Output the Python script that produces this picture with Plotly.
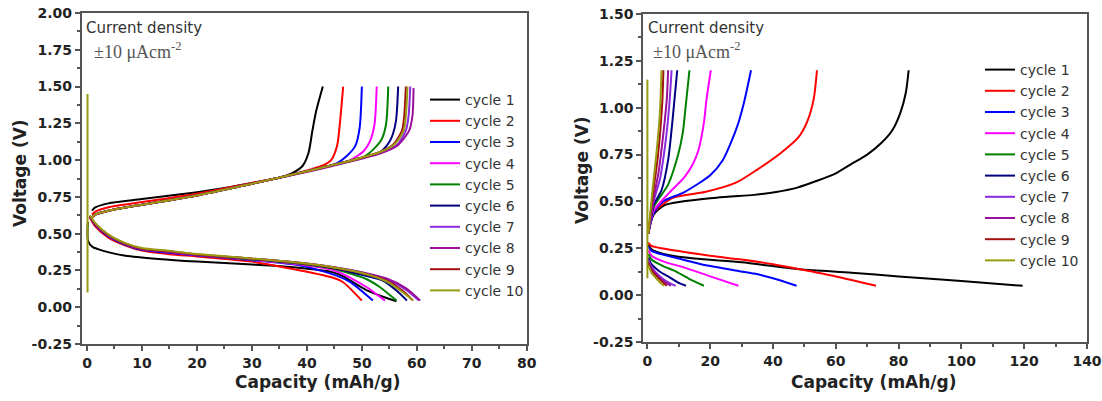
import plotly.graph_objects as go

# ---------------- data ----------------
cycle_names = ["cycle 1", "cycle 2", "cycle 3", "cycle 4", "cycle 5",
               "cycle 6", "cycle 7", "cycle 8", "cycle 9", "cycle 10"]
cycle_colors = ["#000000", "#FF0000", "#0000FF", "#FF00FF", "#008000",
                "#000080", "#8A2BE2", "#9A109A", "#A01010", "#9A9A10"]

# Left panel: charge (upper) curves
left_charge_cap = [
    [0.9, 1.5, 3.9, 10, 19.7, 25, 30, 35.1, 37.5, 39.2, 40.3, 41.0, 41.7, 42.9],
    [0.9, 1.5, 3.9, 10, 19.7, 30, 35.1, 41, 43, 44.4, 45.5, 46.0, 46.6],
    [0.9, 1.5, 3.9, 10, 19.7, 30, 35.1, 41.2, 45.5, 47.3, 48.8, 49.6, 50.0],
    [0.9, 1.5, 3.9, 10, 19.7, 30, 35.1, 41.2, 47.3, 50.3, 51.5, 52.3, 52.7],
    [0.9, 1.5, 3.9, 10, 19.7, 30, 35.1, 41.2, 47.3, 50.5, 52.4, 53.6, 54.4, 54.8],
    [0.9, 1.5, 3.9, 10, 19.7, 30, 35.1, 41.2, 47.3, 53.3, 54.5, 55.4, 56.2, 56.6],
    [0.9, 1.5, 3.9, 10, 19.7, 30, 35.1, 41.2, 47.3, 53.3, 56.3, 58.0, 58.5, 58.8],
    [0.9, 1.5, 3.9, 10, 19.7, 30, 35.1, 41.2, 47.3, 53.3, 56.5, 58.6, 59.2, 59.4],
    [0.9, 1.5, 3.9, 10, 19.7, 30, 35.1, 41.2, 47.3, 53.3, 55.8, 57.3, 57.7, 58.0],
    [0.9, 1.5, 3.9, 10, 19.7, 30, 35.1, 41.2, 47.3, 53.3, 56.0, 57.6, 58.0, 58.3],
]
left_charge_v = [
    [0.656, 0.678, 0.706, 0.735, 0.78, 0.81, 0.845, 0.882, 0.915, 0.96, 1.05, 1.2, 1.335, 1.5],
    [0.63, 0.65, 0.68, 0.715, 0.77, 0.845, 0.882, 0.94, 0.965, 1.0, 1.1, 1.25, 1.5],
    [0.61, 0.63, 0.656, 0.697, 0.758, 0.84, 0.882, 0.935, 0.98, 1.03, 1.097, 1.221, 1.5],
    [0.61, 0.63, 0.656, 0.697, 0.758, 0.84, 0.882, 0.935, 0.99, 1.06, 1.131, 1.244, 1.5],
    [0.61, 0.63, 0.656, 0.697, 0.758, 0.84, 0.882, 0.935, 0.99, 1.025, 1.085, 1.142, 1.244, 1.5],
    [0.61, 0.63, 0.656, 0.697, 0.758, 0.84, 0.882, 0.935, 0.99, 1.055, 1.097, 1.153, 1.267, 1.5],
    [0.61, 0.63, 0.656, 0.697, 0.758, 0.84, 0.882, 0.935, 0.99, 1.05, 1.10, 1.2, 1.3, 1.5],
    [0.61, 0.63, 0.656, 0.697, 0.758, 0.84, 0.88, 0.93, 0.985, 1.045, 1.10, 1.2, 1.3, 1.49],
    [0.61, 0.63, 0.656, 0.697, 0.758, 0.84, 0.882, 0.935, 0.99, 1.055, 1.11, 1.2, 1.3, 1.5],
    [0.61, 0.63, 0.656, 0.697, 0.758, 0.84, 0.882, 0.935, 0.99, 1.055, 1.11, 1.2, 1.3, 1.5],
]

# Left panel: discharge (lower) curves
left_dis_cap = [
    [0.15, 0.2, 1, 2, 4, 7, 13, 20, 30, 38, 44.8, 46.6, 50.9, 56.3],
    [0.5, 1.5, 4, 7, 10, 15, 20, 30, 38.8, 44.8, 46.6, 50.0],
    [0.5, 1.5, 4, 7, 10, 15, 20, 30, 38.8, 45.4, 47.9, 52.0],
    [0.5, 1.5, 4, 7, 10, 15, 20, 30, 38.8, 45, 47.9, 50.9, 54.2],
    [0.5, 1.5, 4, 7, 10, 15, 20, 30, 38.8, 45, 50.9, 53.3, 56.3],
    [0.5, 1.5, 4, 7, 10, 15, 20, 30, 38.8, 45, 50, 53.9, 56.3, 58.2],
    [0.5, 1.5, 4, 7, 10, 15, 20, 30, 38.8, 45, 50, 54.5, 58, 60.4],
    [0.5, 1.5, 4, 7, 10, 15, 20, 30, 38.8, 45, 50, 54.5, 58, 60.6],
    [0.5, 1.5, 4, 7, 10, 15, 20, 30, 38.8, 45, 50, 54.5, 57.5, 59.3],
    [0.5, 1.5, 4, 7, 10, 15, 20, 30, 38.8, 45, 50, 54.5, 57.5, 59.3],
]
left_dis_v = [
    [0.58, 0.45, 0.41, 0.395, 0.373, 0.35, 0.328, 0.31, 0.29, 0.27, 0.237, 0.21, 0.115, 0.04],
    [0.61, 0.55, 0.47, 0.42, 0.385, 0.36, 0.345, 0.31, 0.25, 0.20, 0.17, 0.045],
    [0.62, 0.56, 0.48, 0.425, 0.39, 0.37, 0.352, 0.32, 0.283, 0.215, 0.17, 0.045],
    [0.62, 0.565, 0.485, 0.43, 0.395, 0.375, 0.355, 0.322, 0.29, 0.25, 0.20, 0.136, 0.045],
    [0.62, 0.566, 0.486, 0.43, 0.396, 0.378, 0.357, 0.325, 0.295, 0.26, 0.19, 0.136, 0.045],
    [0.62, 0.566, 0.486, 0.43, 0.396, 0.378, 0.357, 0.327, 0.298, 0.265, 0.22, 0.18, 0.113, 0.045],
    [0.62, 0.566, 0.486, 0.43, 0.396, 0.378, 0.357, 0.33, 0.30, 0.27, 0.235, 0.19, 0.12, 0.045],
    [0.62, 0.566, 0.486, 0.43, 0.396, 0.378, 0.357, 0.33, 0.302, 0.272, 0.238, 0.195, 0.13, 0.045],
    [0.62, 0.568, 0.488, 0.432, 0.398, 0.38, 0.358, 0.33, 0.30, 0.268, 0.232, 0.18, 0.11, 0.045],
    [0.625, 0.572, 0.492, 0.436, 0.402, 0.383, 0.362, 0.332, 0.302, 0.27, 0.232, 0.175, 0.10, 0.045],
]
# vertical rest segment of cycle 10 (left)
left_rest_cap = [0.1, 0.1]
left_rest_v = [1.45, 0.10]

# Right panel: charge (upper) curves
right_charge_cap = [
    [0.3, 2, 5.5, 22, 34, 41, 48, 54, 60, 65, 70, 74.4, 78, 80.5, 82.3, 83.2],
    [0.3, 2, 8.3, 18.3, 28.2, 35, 42.6, 48, 51, 53, 54],
    [0.3, 2, 5, 11.8, 20, 24, 26.5, 29, 30.8, 33],
    [0.3, 2, 6.6, 11.8, 14.5, 16.2, 18.0, 18.8, 20.2],
    [0.3, 2, 6.6, 9.8, 11.3, 11.9, 13.4],
    [0.3, 2, 4.5, 6.6, 8.1, 9.5],
    [0.3, 2, 4, 5.8, 7, 7.7],
    [0.3, 1.8, 3.6, 5.2, 6.2, 6.6],
    [0.3, 1.6, 3.2, 4.3, 4.8, 5.1],
    [0.3, 1.5, 2.9, 3.9, 4.2, 4.5],
]
right_charge_v = [
    [0.33, 0.43, 0.48, 0.52, 0.535, 0.55, 0.575, 0.61, 0.65, 0.70, 0.75, 0.81, 0.88, 0.97, 1.08, 1.2],
    [0.33, 0.44, 0.52, 0.55, 0.60, 0.67, 0.76, 0.84, 0.93, 1.05, 1.2],
    [0.33, 0.44, 0.50, 0.55, 0.64, 0.72, 0.81, 0.92, 1.03, 1.2],
    [0.33, 0.45, 0.54, 0.63, 0.70, 0.77, 0.92, 1.04, 1.2],
    [0.33, 0.47, 0.59, 0.75, 0.87, 0.96, 1.2],
    [0.33, 0.48, 0.56, 0.72, 0.95, 1.2],
    [0.33, 0.50, 0.62, 0.82, 1.02, 1.2],
    [0.33, 0.50, 0.66, 0.88, 1.05, 1.2],
    [0.33, 0.52, 0.72, 0.92, 1.05, 1.2],
    [0.33, 0.54, 0.76, 0.95, 1.05, 1.2],
]

# Right panel: discharge (lower) curves
right_dis_cap = [
    [0.3, 1.3, 5.5, 15, 30, 48.6, 65, 80, 100, 119.5],
    [0.3, 1.3, 10, 20, 30, 40, 48.6, 60, 72.8],
    [0.3, 1.3, 10, 17.1, 29, 34, 40, 47.5],
    [0.3, 1.3, 5, 11.8, 20, 29],
    [0.3, 1.3, 5, 8.7, 13, 18],
    [0.3, 1.3, 4, 6.6, 9.5, 12.3],
    [0.3, 1.3, 4, 6.5, 9],
    [0.3, 1.3, 3.5, 5.5, 7.5],
    [0.3, 1.3, 3, 4.8, 6.2],
    [0.3, 1.3, 2.8, 4.2, 5.3],
]
right_dis_v = [
    [0.27, 0.245, 0.218, 0.195, 0.175, 0.138, 0.12, 0.10, 0.075, 0.05],
    [0.28, 0.263, 0.235, 0.21, 0.19, 0.165, 0.138, 0.10, 0.05],
    [0.26, 0.236, 0.195, 0.165, 0.129, 0.115, 0.09, 0.05],
    [0.24, 0.21, 0.18, 0.147, 0.10, 0.05],
    [0.22, 0.19, 0.155, 0.13, 0.09, 0.05],
    [0.20, 0.165, 0.125, 0.10, 0.07, 0.05],
    [0.19, 0.15, 0.10, 0.07, 0.05],
    [0.18, 0.14, 0.10, 0.07, 0.05],
    [0.17, 0.13, 0.10, 0.07, 0.05],
    [0.16, 0.12, 0.09, 0.065, 0.05],
]
right_rest_cap = [0.0, 0.0]
right_rest_v = [1.15, 0.09]

# tick labels
left_x_ticks = [0, 10, 20, 30, 40, 50, 60, 70, 80]
left_y_ticks = [-0.25, 0.0, 0.25, 0.5, 0.75, 1.0, 1.25, 1.5, 1.75, 2.0]
right_x_ticks = [0, 20, 40, 60, 80, 100, 120, 140]
right_y_ticks = [-0.25, 0.0, 0.25, 0.5, 0.75, 1.0, 1.25, 1.5]

# ---------------- figure ----------------
W, H = 1102, 401
fig = go.Figure()

def add_panel(ch_cap, ch_v, dis_cap, dis_v, rest_cap, rest_v, xa, ya, leg):
    for i in range(10):
        xs = list(ch_cap[i]) + [None] + list(dis_cap[i])
        ys = list(ch_v[i]) + [None] + list(dis_v[i])
        if i == 9:
            xs += [None] + list(rest_cap)
            ys += [None] + list(rest_v)
        fig.add_trace(go.Scatter(
            x=xs, y=ys, mode="lines", name=cycle_names[i],
            line=dict(color=cycle_colors[i], width=2, shape="spline", smoothing=0.7),
            connectgaps=False, xaxis=xa, yaxis=ya, legend=leg,
        ))

add_panel(left_charge_cap, left_charge_v, left_dis_cap, left_dis_v,
          left_rest_cap, left_rest_v, "x", "y", "legend")
add_panel(right_charge_cap, right_charge_v, right_dis_cap, right_dis_v,
          right_rest_cap, right_rest_v, "x2", "y2", "legend2")

px = lambda v: v / W
py = lambda v: 1 - v / H

SANS = "DejaVu Sans, Arial, sans-serif"
tickfont = dict(family=SANS, size=14, color="#222", weight="bold")
axis_common = dict(
    showgrid=False, zeroline=False, showline=True, linecolor="#555", linewidth=1.5,
    mirror=True, ticks="outside", ticklen=5, tickwidth=1.5, tickcolor="#555",
    tickfont=tickfont, automargin=False,
)

legend_font = dict(family=SANS, size=14, color="#333")
fig.update_layout(
    width=W, height=H,
    margin=dict(l=0, r=0, t=0, b=0, autoexpand=False),
    paper_bgcolor="white", plot_bgcolor="white",
    showlegend=True,
    xaxis=dict(axis_common, domain=[px(81.5), px(526.8)], range=[-1, 80],
               tickvals=left_x_ticks, ticktext=[str(v) for v in left_x_ticks],
               minor=dict(dtick=5, tick0=0, ticks="outside", ticklen=3, tickcolor="#555"),
               anchor="y"),
    yaxis=dict(axis_common, domain=[py(344), py(13)], range=[-0.25, 2.0],
               tickvals=left_y_ticks, ticktext=["%.2f" % v for v in left_y_ticks],
               minor=dict(dtick=0.125, tick0=0, ticks="outside", ticklen=3, tickcolor="#555"),
               anchor="x"),
    xaxis2=dict(axis_common, domain=[px(643), px(1087)], range=[-1.4, 140],
                tickvals=right_x_ticks, ticktext=[str(v) for v in right_x_ticks],
                minor=dict(dtick=10, tick0=0, ticks="outside", ticklen=3, tickcolor="#555"),
                anchor="y2"),
    yaxis2=dict(axis_common, domain=[py(342), py(14)], range=[-0.25, 1.5],
                tickvals=right_y_ticks, ticktext=["%.2f" % v for v in right_y_ticks],
                minor=dict(dtick=0.125, tick0=0, ticks="outside", ticklen=3, tickcolor="#555"),
                anchor="x2"),
    legend=dict(x=px(425), y=py(84), xanchor="left", yanchor="top",
                bgcolor="rgba(0,0,0,0)", tracegroupgap=0, itemwidth=30,
                font=legend_font),
    legend2=dict(x=px(980), y=py(54), xanchor="left", yanchor="top",
                 bgcolor="rgba(0,0,0,0)", tracegroupgap=0, itemwidth=30,
                 font=legend_font),
)

title_font = dict(family=SANS, size=17, color="#222", weight="bold")
cd_font = dict(family=SANS, size=15, color="#333")
sf_font = dict(family="Times New Roman, Liberation Serif, serif", size=18, color="#555")
ann = [
    dict(text="Capacity (mAh/g)", x=px(318), y=py(382), font=title_font),
    dict(text="Capacity (mAh/g)", x=px(874), y=py(382), font=title_font),
    dict(text="Voltage (V)", x=px(20), y=py(173), font=title_font, textangle=-90),
    dict(text="Voltage (V)", x=px(582), y=py(170), font=title_font, textangle=-90),
    dict(text="Current density", x=px(84), y=py(28), font=cd_font, xanchor="left"),
    dict(text="±10 μAcm<sup>-2</sup>", x=px(92), y=py(51), font=sf_font, xanchor="left"),
    dict(text="Current density", x=px(646), y=py(28), font=cd_font, xanchor="left"),
    dict(text="±10 μAcm<sup>-2</sup>", x=px(651), y=py(50), font=sf_font, xanchor="left"),
]
for a in ann:
    a.update(xref="paper", yref="paper", showarrow=False)
    a.setdefault("xanchor", "center")
    a.setdefault("yanchor", "middle")
    fig.add_annotation(**a)

fig.write_html("out.html",
               config={"displayModeBar": False},
               post_script="document.body.style.margin='0px';document.body.style.overflow='hidden';")
